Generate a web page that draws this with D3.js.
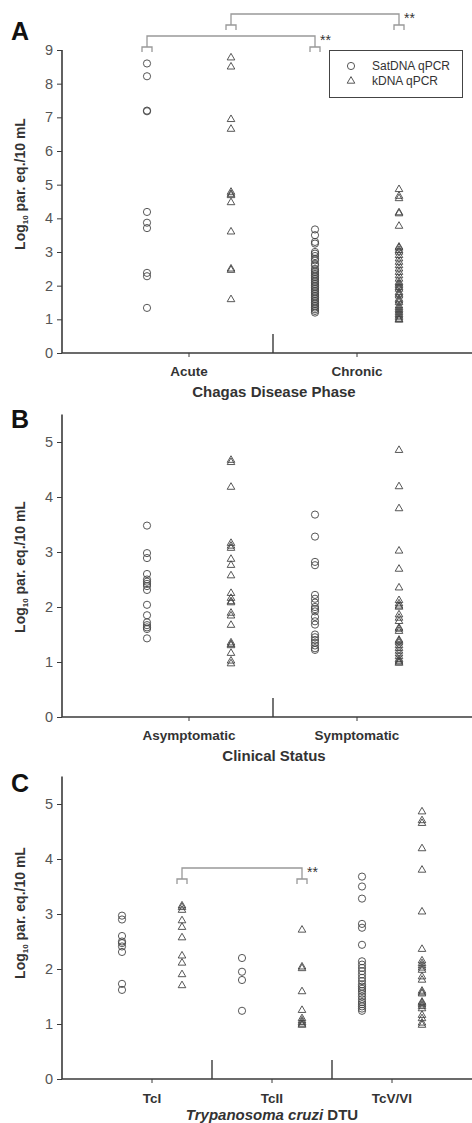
<!DOCTYPE html>
<html>
<head>
<meta charset="utf-8">
<script src="https://cdn.jsdelivr.net/npm/d3@7"></script>
<style>
body { margin: 0; background: #fff; }
svg { display: block; font-family: "Liberation Sans", Arial, sans-serif; }
</style>
</head>
<body>
<svg id="chart" width="472" height="1123"></svg>
<script>
// ---- data (log10 par. eq./10 mL) ----
var seriesNames = ["SatDNA qPCR", "kDNA qPCR"];

var phaseCats   = ["Acute", "Chronic"];
var acuteSat    = [8.6, 8.22, 7.2, 7.18, 4.19, 3.87, 3.71, 2.38, 2.28, 1.34];
var acuteK      = [8.77, 8.5, 6.94, 6.65, 4.78, 4.72, 4.68, 4.47, 3.6, 2.5, 2.46, 1.59];
var chronicSat  = [3.67, 3.5, 3.3, 3.25, 3.0, 2.95, 2.88, 2.8, 2.75, 2.65, 2.6, 2.5, 2.45, 2.4, 2.35, 2.3, 2.25,
                   2.2, 2.15, 2.1, 2.05, 2.0, 1.95, 1.9, 1.85, 1.8, 1.75, 1.7, 1.65, 1.6, 1.55, 1.5, 1.45,
                   1.4, 1.35, 1.3, 1.25, 1.2];
var chronicK    = [4.86, 4.66, 4.59, 4.17, 4.14, 3.77, 3.15, 3.12, 3.05, 3.0, 2.9, 2.8, 2.7, 2.6, 2.5, 2.4, 2.3,
                   2.2, 2.1, 2.05, 2.0, 1.95, 1.9, 1.8, 1.75, 1.7, 1.6, 1.55, 1.5, 1.4, 1.35, 1.3, 1.25,
                   1.2, 1.15, 1.1, 1.05, 1.0, 0.98];

var statusCats  = ["Asymptomatic", "Symptomatic"];
var asymSat     = [3.48, 2.98, 2.89, 2.6, 2.5, 2.46, 2.42, 2.38, 2.31, 2.04, 1.85, 1.72, 1.67, 1.63, 1.6, 1.43];
var asymK       = [4.67, 4.63, 4.18, 3.16, 3.11, 3.07, 2.87, 2.76, 2.57, 2.25, 2.16, 2.1, 2.08, 1.89, 1.84,
                   1.67, 1.35, 1.32, 1.3, 1.16, 1.02, 0.97];
var symSat      = [3.68, 3.28, 2.82, 2.76, 2.22, 2.15, 2.08, 2.0, 1.96, 1.92, 1.82, 1.74, 1.68, 1.5, 1.45,
                   1.4, 1.35, 1.3, 1.25, 1.22];
var symK        = [4.85, 4.19, 3.79, 3.02, 2.69, 2.35, 2.12, 2.06, 2.02, 2.0, 1.86, 1.8, 1.74, 1.62, 1.6,
                   1.56, 1.4, 1.38, 1.35, 1.3, 1.25, 1.2, 1.15, 1.1, 1.05, 1.02, 1.0, 0.98];

var dtuCats     = ["TcI", "TcII", "TcV/VI"];
var tc1Sat      = [2.97, 2.9, 2.6, 2.5, 2.47, 2.41, 2.31, 1.73, 1.62];
var tc1K        = [3.15, 3.12, 3.07, 2.88, 2.76, 2.57, 2.24, 2.11, 1.9, 1.7];
var tc2Sat      = [2.2, 1.95, 1.8, 1.24];
var tc2K        = [2.71, 2.04, 2.01, 1.59, 1.25, 1.1, 1.06, 1.03, 1.0, 0.98];
var tc5Sat      = [3.68, 3.5, 3.28, 2.82, 2.75, 2.44, 2.14, 2.08, 2.02, 1.96, 1.9, 1.84, 1.78, 1.72, 1.68,
                   1.64, 1.6, 1.55, 1.5, 1.45, 1.4, 1.36, 1.32, 1.28, 1.24];
var tc5K        = [4.86, 4.7, 4.65, 4.19, 3.8, 3.04, 2.36, 2.15, 2.1, 2.06, 2.02, 1.98, 1.86, 1.8, 1.6, 1.57,
                   1.55, 1.4, 1.38, 1.35, 1.32, 1.28, 1.16, 1.1, 1.02, 0.98];

var ticksA = [0, 1, 2, 3, 4, 5, 6, 7, 8, 9];
var ticksBC = [0, 1, 2, 3, 4, 5];

// significance brackets: [category, series] -> [category, series]
var bracketsA = [
    { from: ["Acute", "SatDNA qPCR"], to: ["Chronic", "SatDNA qPCR"], label: "**" },
    { from: ["Acute", "kDNA qPCR"],   to: ["Chronic", "kDNA qPCR"],   label: "**" }
];
var bracketsC = [
    { from: ["TcI", "kDNA qPCR"], to: ["TcII", "kDNA qPCR"], label: "**" }
];

var svg = d3.select("#chart");
var axisX0 = 62, axisX1 = 472;
var ink = "#3a3a3a";

var triangle = d3.symbol().type(d3.symbolTriangle).size(25);

function drawPanel(cfg) {
    var g = svg.append("g");

    var y = d3.scaleLinear().domain(cfg.yDomain).range([cfg.y0, cfg.yTop]);
    var x = d3.scaleBand().domain(cfg.cats).range(cfg.xRange).padding(0);
    var xs = d3.scaleBand().domain(seriesNames).range([0, x.bandwidth()]);
    var cx = function(cat, s) { return x(cat) + xs(s) + xs.bandwidth() / 2; };

    // y axis
    var ya = g.append("g").attr("transform", "translate(" + axisX0 + ",0)")
        .call(d3.axisLeft(y).tickValues(cfg.ticks).tickSize(5).tickPadding(4).tickFormat(d3.format("d")));
    ya.select(".domain").attr("stroke", ink).attr("stroke-width", 1.6)
        .attr("d", "M0," + y.range()[1] + "V" + cfg.y0);
    ya.selectAll(".tick line").attr("stroke", ink).attr("stroke-width", 1);
    ya.selectAll(".tick text").attr("fill", "#555").attr("font-size", 14.5)
        .attr("font-family", "Liberation Sans, Arial, sans-serif");

    // x axis line
    g.append("line").attr("x1", axisX0).attr("x2", axisX1).attr("y1", cfg.y0).attr("y2", cfg.y0)
        .attr("stroke", ink).attr("stroke-width", 1.6);

    // category ticks and labels
    cfg.cats.forEach(function(c, i) {
        var mx = x(c) + x.bandwidth() / 2;
        g.append("line").attr("x1", mx).attr("x2", mx).attr("y1", cfg.y0).attr("y2", cfg.y0 + 4)
            .attr("stroke", ink).attr("stroke-width", 1);
        g.append("text").attr("x", mx).attr("y", cfg.y0 + cfg.catDy).attr("text-anchor", "middle")
            .attr("font-size", 13.5).attr("font-weight", "bold").attr("fill", "#333").text(c);
        if (i > 0) {
            g.append("line").attr("x1", x(c)).attr("x2", x(c)).attr("y1", cfg.y0).attr("y2", cfg.y0 - 19)
                .attr("stroke", ink).attr("stroke-width", 1.4);
        }
    });

    // x title
    var xt = g.append("text").attr("x", cfg.titleX).attr("y", cfg.y0 + cfg.titleDy)
        .attr("text-anchor", "middle").attr("font-size", 15).attr("font-weight", "bold").attr("fill", "#333");
    cfg.title.forEach(function(p) {
        xt.append("tspan").attr("font-style", p.italic ? "italic" : null).text(p.t);
    });

    // y title
    var yt = g.append("text").attr("transform", "translate(25," + cfg.yLabelY + ") rotate(-90)")
        .attr("text-anchor", "middle").attr("font-size", 14).attr("font-weight", "bold").attr("fill", "#333");
    yt.append("tspan").text("Log");
    yt.append("tspan").attr("font-size", 8).attr("dy", 3).text("10");
    yt.append("tspan").attr("dy", -3).text(" par. eq./10 mL");

    // panel letter
    g.append("text").attr("x", 11).attr("y", cfg.letterY).attr("font-size", 25).attr("font-weight", "bold")
        .attr("fill", "#111").text(cfg.letter);

    // points
    cfg.groups.forEach(function(grp) {
        var px = cx(grp.cat, grp.s);
        if (grp.s === seriesNames[0]) {
            g.selectAll(null).data(grp.v).enter().append("circle")
                .attr("cx", px).attr("cy", function(d) { return y(d); }).attr("r", 3.6)
                .attr("fill", "none").attr("stroke", "#444").attr("stroke-width", 0.9);
        } else {
            g.selectAll(null).data(grp.v).enter().append("path")
                .attr("d", triangle)
                .attr("transform", function(d) { return "translate(" + px + "," + y(d) + ")"; })
                .attr("fill", "none").attr("stroke", "#444").attr("stroke-width", 0.9);
        }
    });

    // brackets
    (cfg.brackets || []).forEach(function(b, i) {
        var top = cfg.bracketTops[i];
        var x1 = cx(b.from[0], b.from[1]), x2 = cx(b.to[0], b.to[1]);
        var path = "M" + x1 + "," + (top + 11) + "V" + top + "H" + x2 + "V" + (top + 11);
        [x1, x2].forEach(function(xx) {
            path += "M" + (xx - 5) + "," + (top + 16) + "V" + (top + 11) + "H" + (xx + 5) + "V" + (top + 16);
        });
        g.append("path").attr("d", path).attr("fill", "none").attr("stroke", "#999").attr("stroke-width", 1.3);
        g.append("text").attr("x", x2 + 5).attr("y", top + 9).attr("font-size", 14).attr("fill", "#333")
            .text(b.label);
    });
}

drawPanel({
    letter: "A", letterY: 40,
    cats: phaseCats, xRange: [105, 441],
    yDomain: [0, 9], y0: 353, yTop: 50, ticks: ticksA, yLabelY: 184,
    catDy: 23, titleDy: 44, titleX: 274,
    title: [{ t: "Chagas Disease Phase" }],
    groups: [
        { cat: "Acute", s: "SatDNA qPCR", v: acuteSat },
        { cat: "Acute", s: "kDNA qPCR", v: acuteK },
        { cat: "Chronic", s: "SatDNA qPCR", v: chronicSat },
        { cat: "Chronic", s: "kDNA qPCR", v: chronicK }
    ],
    brackets: bracketsA, bracketTops: [36, 14]
});

drawPanel({
    letter: "B", letterY: 428,
    cats: statusCats, xRange: [105, 441],
    yDomain: [0, 5.5], y0: 717, yTop: 414.5, ticks: ticksBC, yLabelY: 567,
    catDy: 23, titleDy: 44, titleX: 274,
    title: [{ t: "Clinical Status" }],
    groups: [
        { cat: "Asymptomatic", s: "SatDNA qPCR", v: asymSat },
        { cat: "Asymptomatic", s: "kDNA qPCR", v: asymK },
        { cat: "Symptomatic", s: "SatDNA qPCR", v: symSat },
        { cat: "Symptomatic", s: "kDNA qPCR", v: symK }
    ]
});

drawPanel({
    letter: "C", letterY: 792,
    cats: dtuCats, xRange: [92, 452],
    yDomain: [0, 5.5], y0: 1079, yTop: 776.5, ticks: ticksBC, yLabelY: 913,
    catDy: 24, titleDy: 41, titleX: 272,
    title: [{ t: "Trypanosoma cruzi", italic: true }, { t: " DTU" }],
    groups: [
        { cat: "TcI", s: "SatDNA qPCR", v: tc1Sat },
        { cat: "TcI", s: "kDNA qPCR", v: tc1K },
        { cat: "TcII", s: "SatDNA qPCR", v: tc2Sat },
        { cat: "TcII", s: "kDNA qPCR", v: tc2K },
        { cat: "TcV/VI", s: "SatDNA qPCR", v: tc5Sat },
        { cat: "TcV/VI", s: "kDNA qPCR", v: tc5K }
    ],
    brackets: bracketsC, bracketTops: [868]
});

// legend (panel A)
var lg = svg.append("g");
lg.append("rect").attr("x", 329.5).attr("y", 50.5).attr("width", 133).attr("height", 47)
    .attr("fill", "#fff").attr("stroke", "#444").attr("stroke-width", 1);
lg.append("circle").attr("cx", 351).attr("cy", 66).attr("r", 3.6)
    .attr("fill", "none").attr("stroke", "#444").attr("stroke-width", 0.9);
lg.append("path").attr("d", triangle).attr("transform", "translate(351,81)")
    .attr("fill", "none").attr("stroke", "#444").attr("stroke-width", 0.9);
lg.selectAll("text.leg").data(seriesNames).enter().append("text").attr("class", "leg")
    .attr("x", 372).attr("y", function(d, i) { return 70 + i * 15; })
    .attr("font-size", 12).attr("fill", "#333").text(function(d) { return d; });
</script>
</body>
</html>
